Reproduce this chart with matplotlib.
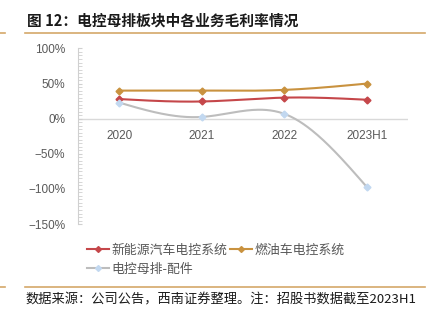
import numpy as np
import matplotlib
matplotlib.use("Agg")
import matplotlib.pyplot as plt
from matplotlib.ticker import MultipleLocator, FuncFormatter
from matplotlib.lines import Line2D

plt.rcParams['font.family'] = ['Noto Sans CJK SC', 'DejaVu Sans']

# 毛利率数据（%）
years = ['2020', '2021', '2022', '2023H1']
nev_ctrl = [28, 24.5, 30, 27]        # 新能源汽车电控系统
fuel_ctrl = [40, 40, 41, 50]         # 燃油车电控系统
busbar_parts = [23, 2.5, 7, -97]     # 电控母排-配件

RED = '#c5474a'
ORANGE = '#c9923f'
GREY = '#bdbdbd'
LIGHTBLUE = '#c2d8f0'
TXT = '#595959'


def smooth(xs, ys, n=60):
    """自然三次样条平滑曲线"""
    xs = np.asarray(xs, float)
    ys = np.asarray(ys, float)
    k = len(xs)
    h = np.diff(xs)
    A = np.zeros((k, k))
    b = np.zeros(k)
    A[0, 0] = A[-1, -1] = 1
    for i in range(1, k - 1):
        A[i, i - 1] = h[i - 1]
        A[i, i] = 2 * (h[i - 1] + h[i])
        A[i, i + 1] = h[i]
        b[i] = 3 * ((ys[i + 1] - ys[i]) / h[i] - (ys[i] - ys[i - 1]) / h[i - 1])
    c = np.linalg.solve(A, b)
    out_x, out_y = [], []
    for i in range(k - 1):
        bi = (ys[i + 1] - ys[i]) / h[i] - h[i] * (2 * c[i] + c[i + 1]) / 3
        di = (c[i + 1] - c[i]) / (3 * h[i])
        t = np.linspace(0, h[i], n, endpoint=(i == k - 2))
        out_x.append(xs[i] + t)
        out_y.append(ys[i] + bi * t + c[i] * t ** 2 + di * t ** 3)
    return np.concatenate(out_x), np.concatenate(out_y)


fig = plt.figure(figsize=(4.42, 3.21), dpi=100)
ax = fig.add_axes([0.176, 0.302, 0.747, 0.547])

x = np.arange(len(years))
series = [
    (nev_ctrl, RED, RED, '新能源汽车电控系统'),
    (fuel_ctrl, ORANGE, ORANGE, '燃油车电控系统'),
    (busbar_parts, GREY, LIGHTBLUE, '电控母排-配件'),
]
for vals, lc, mc, name in series:
    sx, sy = smooth(x, vals)
    ax.plot(sx, sy, color=lc, lw=1.5, zorder=3)
    ax.plot(x, vals, ls='none', marker='D', ms=3.5, color=mc, zorder=4)

ax.set_xlim(-0.5, 3.5)
ax.set_ylim(-150, 100)
ax.axhline(0, color='#d9d9d9', lw=1, zorder=1)

ax.yaxis.set_major_locator(MultipleLocator(50))
ax.yaxis.set_minor_locator(MultipleLocator(5))
ax.yaxis.set_major_formatter(FuncFormatter(lambda v, p: f'{v:.0f}%'.replace('-', '\u2212')))
ax.tick_params(axis='y', which='both', direction='in', length=3, color='#d0d0d0',
               labelsize=8.5, labelcolor=TXT, pad=9)
ax.set_xticks(x)
ax.set_xticklabels(years)
# x 轴标签放在 0 线下方
ax.spines['bottom'].set_position(('data', 0))
ax.tick_params(axis='x', length=0, labelsize=8.5, labelcolor=TXT, pad=8)
for lab in ax.get_yticklabels() + ax.get_xticklabels():
    lab.set_family('Liberation Sans')

for s in ['top', 'right', 'bottom']:
    ax.spines[s].set_visible(False)
ax.spines['left'].set_color('#d0d0d0')

# 图例（按列填充：第一行红、橙，第二行灰）
handles = [Line2D([], [], color=lc, lw=1.5, marker='D', ms=3, markerfacecolor=mc,
                  markeredgecolor=mc) for _, lc, mc, _ in series]
labels = [s[3] for s in series]
order = [0, 2, 1]
fig.legend([handles[i] for i in order], [labels[i] for i in order],
           loc='upper left', bbox_to_anchor=(0.185, 0.258), ncol=2,
           frameon=False, fontsize=9.3, handlelength=1.7, handletextpad=0.2,
           columnspacing=0.2, labelspacing=0.5, borderaxespad=0, labelcolor=TXT)

# 标题与来源
fig.text(0.061, 0.935, '图 12：电控母排板块中各业务毛利率情况', fontsize=10.6,
         fontweight='bold', color='#1a1a1a', va='center')
for yy in (0.896, 0.106):
    fig.add_artist(Line2D([0.057, 0.962], [yy, yy], color='#d4a86a', lw=1.2))
    fig.add_artist(Line2D([0.0, 0.011], [yy, yy], color='#d4a86a', lw=1.2))
fig.text(0.057, 0.065, '数据来源：公司公告，西南证券整理。注：招股书数据截至2023H1',
         fontsize=9.5, style='italic', color='#1a1a1a', va='center')

fig.savefig('out.png', dpi=100)
